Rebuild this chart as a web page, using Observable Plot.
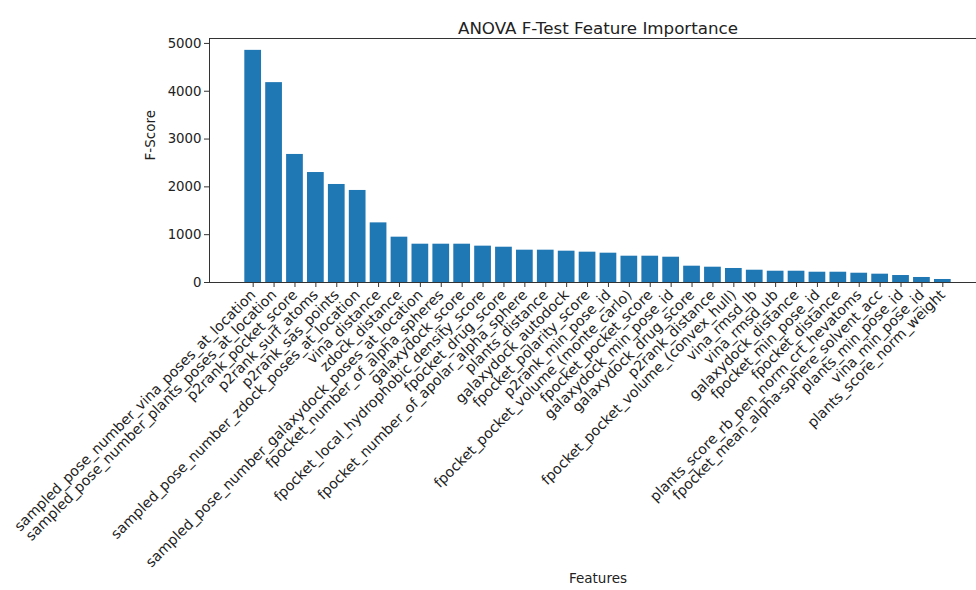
<!DOCTYPE html>
<html>
<head>
<meta charset="utf-8">
<script src="https://cdn.jsdelivr.net/npm/d3@7"></script>
<script src="https://cdn.jsdelivr.net/npm/@observablehq/plot@0.6"></script>
<style>
  html, body { margin: 0; padding: 0; background: #fff; overflow: hidden; }
  #wrap { width: 976px; height: 590px; overflow: hidden; position: relative; }
  #wrap svg { max-width: none !important; }
</style>
</head>
<body>
<div id="wrap"></div>
<script>
const title = "ANOVA F-Test Feature Importance";
const xLabel = "Features";
const yLabel = "F-Score";
const features = [
  "sampled_pose_number_vina_poses_at_location",
  "sampled_pose_number_plants_poses_at_location",
  "p2rank_pocket_score",
  "p2rank_surf_atoms",
  "p2rank_sas_points",
  "sampled_pose_number_zdock_poses_at_location",
  "vina_distance",
  "zdock_distance",
  "sampled_pose_number_galaxydock_poses_at_location",
  "fpocket_number_of_alpha_spheres",
  "galaxydock_score",
  "fpocket_local_hydrophobic_density_score",
  "fpocket_drug_score",
  "fpocket_number_of_apolar_alpha_sphere",
  "plants_distance",
  "galaxydock_autodock",
  "fpocket_polarity_score",
  "p2rank_min_pose_id",
  "fpocket_pocket_volume_(monte_carlo)",
  "fpocket_pocket_score",
  "galaxydock_min_pose_id",
  "galaxydock_drug_score",
  "p2rank_distance",
  "fpocket_pocket_volume_(convex_hull)",
  "vina_rmsd_lb",
  "vina_rmsd_ub",
  "galaxydock_distance",
  "fpocket_min_pose_id",
  "fpocket_distance",
  "plants_score_rb_pen_norm_crt_hevatoms",
  "fpocket_mean_alpha-sphere_solvent_acc",
  "plants_min_pose_id",
  "vina_min_pose_id",
  "plants_score_norm_weight"
];
const fScores = [
  4855, 4180, 2678, 2300, 2050, 1925, 1247, 948, 801, 801,
  801, 760, 738, 676, 676, 655, 634, 613, 550, 550,
  529, 341, 320, 293, 257, 236, 236, 215, 215, 194,
  174, 146, 105, 63
];
const yTicks = [0, 1000, 2000, 3000, 4000, 5000];

const data = features.map((f, i) => ({feature: f, score: fScores[i]}));

const chart = Plot.plot({
  width: 1000,
  height: 590,
  marginLeft: 209,
  marginRight: 14,
  marginTop: 38,
  marginBottom: 308,
  style: {fontFamily: "DejaVu Sans, sans-serif", fontSize: "13.3px", color: "#222", background: "#fff", maxWidth: "none"},
  x: {
    type: "band",
    domain: features,
    paddingInner: 0.2,
    paddingOuter: 1.69,
    label: null
  },
  y: {
    domain: [0, 5103],
    ticks: yTicks,
    label: null
  },
  marks: [
    Plot.barY(data, {x: "feature", y: "score", fill: "#1f77b4"}),
    Plot.frame({stroke: "#333", strokeWidth: 1}),
    Plot.axisY({ticks: yTicks, tickSize: 5, tickPadding: 3, tickFormat: d => String(d), label: null, stroke: "#333"}),
    Plot.axisX({tickRotate: -45, tickSize: 5, tickPadding: 5, fontSize: 14.2, label: null, stroke: "#333"}),
    Plot.text([title], {frameAnchor: "top", dy: -16, fontSize: 16.7, fill: "#222"}),
    Plot.text([xLabel], {frameAnchor: "bottom", dy: 300, fontSize: 13.5, fill: "#222"}),
    Plot.text([yLabel], {frameAnchor: "left", dx: -59, rotate: -90, fontSize: 13.5, fill: "#222"})
  ]
});
chart.style.maxWidth = "none";
document.getElementById("wrap").appendChild(chart);
</script>
</body>
</html>
